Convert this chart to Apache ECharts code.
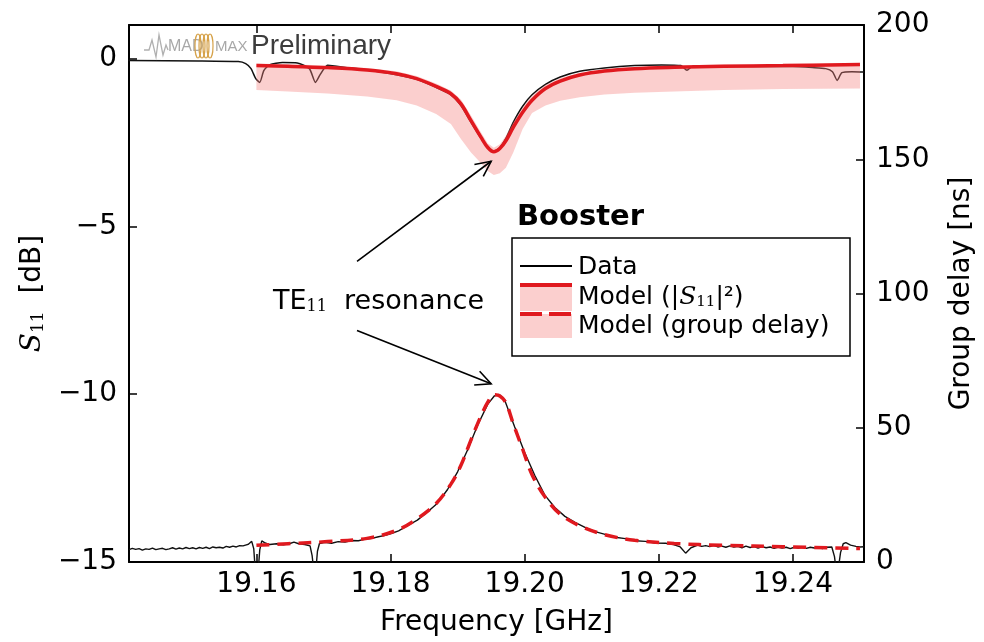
<!DOCTYPE html>
<html><head><meta charset="utf-8">
<script src="https://cdn.jsdelivr.net/npm/echarts@6/dist/echarts.min.js"></script>
<style>html,body{margin:0;padding:0;background:#fff}#c{width:984px;height:642px}</style>
</head><body><div id="c"></div>
<script>
// ---------------- data ----------------
const xTicks = [19.16, 19.18, 19.20, 19.22, 19.24];
const s11Ticks = [-15, -10, -5, 0];
const delayTicks = [0, 50, 100, 150, 200];

// measured S11 (black), dB
const s11DataFreq = [19.1409,19.1514,19.1573,19.1584,19.1592,19.1599,19.1605,19.1611,19.1620,19.1639,19.1661,19.1679,19.1688,19.1695,19.1706,19.1735,19.1765,19.1809,19.1839,19.1868,19.1890,19.1905,19.1920,19.1935,19.1945,19.1954,19.1963,19.1972,19.1983,19.1997,19.2011,19.2031,19.2053,19.2082,19.2119,19.2164,19.2204,19.2233,19.2242,19.2251,19.2301,19.2400,19.2429,19.2449,19.2459,19.2466,19.2473,19.2488,19.2506];
const s11DataDb = [-0.06,-0.07,-0.09,-0.15,-0.30,-0.60,-0.71,-0.36,-0.18,-0.12,-0.13,-0.30,-0.71,-0.48,-0.20,-0.27,-0.34,-0.48,-0.62,-0.86,-1.08,-1.40,-1.90,-2.38,-2.66,-2.77,-2.65,-2.38,-1.90,-1.42,-1.08,-0.77,-0.55,-0.38,-0.28,-0.21,-0.19,-0.21,-0.35,-0.22,-0.23,-0.24,-0.27,-0.30,-0.39,-0.65,-0.42,-0.39,-0.40];

// measured group delay (black): [frequency GHz, delay ns]
const delayDataLeft = [[19.1410,4.6],[19.1415,5.1],[19.1420,4.7],[19.1425,5.0],[19.1430,4.4],[19.1435,4.9],[19.1440,4.7],[19.1445,5.2],[19.1450,4.6],[19.1455,4.9],[19.1460,5.1],[19.1465,4.6],[19.1470,4.9],[19.1475,5.3],[19.1480,4.8],[19.1485,5.2],[19.1490,4.9],[19.1495,5.4],[19.1500,5.0],[19.1505,5.3],[19.1510,4.9],[19.1515,5.4],[19.1520,5.1],[19.1525,5.5],[19.1530,5.0],[19.1535,5.6],[19.1540,5.3],[19.1545,5.5],[19.1550,5.2],[19.1555,5.8],[19.1560,5.5],[19.1565,5.9],[19.1570,5.6],[19.1575,6.1],[19.1580,6.0],[19.1585,6.4]];
const delayDataPeak = [[19.1588,6.6],[19.1593,7.7],[19.1596,5.0],[19.1598,-2],[19.1603,-2],[19.1605,4.5],[19.1608,7.9],[19.1612,7.2],[19.1620,6.5],[19.1630,6.8],[19.1640,6.4],[19.1650,6.9],[19.1656,7.4],[19.1663,6.8],[19.1672,6.5],[19.1680,6.0],[19.1683,2.5],[19.1685,-2],[19.1689,-2],[19.1691,4.0],[19.1694,6.9],[19.1702,7.3],[19.1712,7.0],[19.1722,7.6],[19.1732,7.4],[19.1742,8.0],[19.1752,7.9],[19.1762,8.5],[19.1772,8.8],[19.1782,9.4],[19.1792,9.9],[19.1802,10.7],[19.1812,11.6],[19.1825,13.5],[19.1840,15.6],[19.1855,18.6],[19.1870,21.9],[19.1885,27.0],[19.1900,33.6],[19.1915,41.8],[19.1930,51.0],[19.1945,58.8],[19.1955,61.9],[19.1962,62.4],[19.1970,60.4],[19.1985,50.4],[19.2000,40.8],[19.2015,32.3],[19.2030,24.9],[19.2045,20.3],[19.2060,17.0],[19.2075,14.8],[19.2090,12.9],[19.2105,11.3],[19.2120,10.3],[19.2135,9.2],[19.2150,8.7],[19.2165,7.9],[19.2180,7.7],[19.2195,7.1],[19.2210,7.0],[19.2222,6.5],[19.2232,5.6],[19.2240,3.3],[19.2248,5.3]];
const delayDataRight = [[19.2258,6.3],[19.2264,5.8],[19.2270,6.1],[19.2276,5.7],[19.2282,6.2],[19.2288,5.6],[19.2294,5.9],[19.2300,5.5],[19.2306,6.0],[19.2312,5.6],[19.2318,5.8],[19.2324,5.3],[19.2330,5.9],[19.2336,5.4],[19.2342,5.7],[19.2348,5.2],[19.2354,5.7],[19.2360,5.3],[19.2366,5.6],[19.2372,5.1],[19.2378,5.6],[19.2384,5.2],[19.2390,5.5],[19.2396,5.0],[19.2402,5.5],[19.2408,5.2],[19.2414,5.6],[19.2420,5.1],[19.2426,5.5],[19.2432,5.2],[19.2438,5.4],[19.2444,5.0],[19.2450,5.5],[19.2458,5.6],[19.2462,2.0],[19.2464,-2],[19.2468,-2],[19.2471,3.5],[19.2475,6.8],[19.2479,7.2],[19.2486,6.3],[19.2494,5.8],[19.2500,5.6],[19.2506,5.7]];

// model curves
const modelFreq = [19.1600,19.1647,19.1706,19.1765,19.1809,19.1839,19.1868,19.1890,19.1905,19.1920,19.1935,19.1945,19.1954,19.1963,19.1972,19.1983,19.1997,19.2011,19.2031,19.2053,19.2082,19.2119,19.2164,19.2223,19.2297,19.2385,19.2500];
const modelS11Db = [-0.21,-0.23,-0.27,-0.34,-0.45,-0.60,-0.83,-1.05,-1.35,-1.85,-2.35,-2.65,-2.78,-2.68,-2.45,-2.05,-1.60,-1.24,-0.89,-0.67,-0.49,-0.37,-0.30,-0.26,-0.23,-0.21,-0.18];
const modelBandHighDb = [-0.15,-0.17,-0.21,-0.28,-0.38,-0.52,-0.74,-0.95,-1.22,-1.70,-2.20,-2.52,-2.66,-2.55,-2.30,-1.90,-1.45,-1.10,-0.78,-0.58,-0.42,-0.31,-0.25,-0.21,-0.18,-0.16,-0.13];
const modelBandLowDb = [-0.94,-0.98,-1.04,-1.13,-1.24,-1.40,-1.65,-1.95,-2.40,-2.80,-3.12,-3.35,-3.47,-3.42,-3.25,-2.80,-2.10,-1.62,-1.40,-1.26,-1.15,-1.07,-1.02,-0.98,-0.94,-0.91,-0.89];
const modelDelayNs = [6.2,6.8,7.6,8.8,11.8,16.0,21.8,29.0,36.0,45.5,54.5,59.5,62.3,61.8,59.3,51.5,42.0,32.5,24.0,17.8,13.5,10.2,8.1,6.9,6.2,5.7,5.0];

// annotation anchor points (data space)
const arrowS11 = {from: [19.1750, -6.04], to: [19.1950, -3.06]};
const arrowDelay = {from: [19.1750, 86.2], to: [19.1950, 66.4]};

// ---------------- chart ----------------
const FONT = 'DejaVu Sans';
const RED = '#e0191f';
const BAND = 'rgba(245,130,125,0.38)';
const zip = (a, b) => a.map((v, i) => [v, b[i]]);
const minusFmt = v => (v < 0 ? '\u2212' + Math.abs(v) : String(v));

const chart = echarts.init(document.getElementById('c'));
const xCommon = {
  type: 'value', min: 19.141, max: 19.2506,
  axisLine: {show: true, onZero: false, lineStyle: {color: '#000', width: 2}},
  axisTick: {show: true, inside: true, length: 8, customValues: xTicks, lineStyle: {color: '#000', width: 1.5}},
  splitLine: {show: false}
};
const subRich = {
  t: {fontFamily: FONT, fontSize: 28, color: '#000', lineHeight: 34, verticalAlign: 'bottom'},
  s: {fontFamily: 'DejaVu Serif', fontStyle: 'italic', fontSize: 28, color: '#000', lineHeight: 34, verticalAlign: 'bottom'},
  b: {fontFamily: 'DejaVu Serif', fontSize: 17, color: '#000', lineHeight: 15, verticalAlign: 'bottom'}
};

chart.setOption({
  animation: false,
  backgroundColor: '#fff',
  grid: {left: 129, right: 112, top: 25, bottom: 79},
  xAxis: [
    Object.assign({}, xCommon, {
      position: 'bottom',
      name: 'Frequency [GHz]', nameLocation: 'middle', nameGap: 47,
      nameTextStyle: {fontFamily: FONT, fontSize: 28, color: '#000'},
      axisLabel: {customValues: xTicks, formatter: v => v.toFixed(2), fontFamily: FONT, fontSize: 28, color: '#000', margin: 9}
    }),
    Object.assign({}, xCommon, {position: 'top', axisLabel: {show: false}})
  ],
  yAxis: [
    {
      type: 'value', min: -15, max: 1, position: 'left',
      name: '{s|S}{b|11}{t|  [dB]}', nameLocation: 'middle', nameRotate: 90, nameGap: 71,
      nameTextStyle: {rich: subRich},
      axisLine: {show: true, lineStyle: {color: '#000', width: 2}},
      axisTick: {show: true, inside: true, length: 8, customValues: s11Ticks, lineStyle: {color: '#000', width: 1.5}},
      axisLabel: {customValues: s11Ticks, formatter: minusFmt, fontFamily: FONT, fontSize: 28, color: '#000', margin: 12},
      splitLine: {show: false}
    },
    {
      type: 'value', min: 0, max: 200, position: 'right',
      name: 'Group delay [ns]', nameLocation: 'middle', nameRotate: 90, nameGap: 84,
      nameTextStyle: {fontFamily: FONT, fontSize: 28, color: '#000'},
      axisLine: {show: true, lineStyle: {color: '#000', width: 2}},
      axisTick: {show: true, inside: true, length: 8, customValues: delayTicks, lineStyle: {color: '#000', width: 1.5}},
      axisLabel: {customValues: delayTicks, fontFamily: FONT, fontSize: 28, color: '#000', margin: 12},
      splitLine: {show: false}
    }
  ],
  series: [
    {name: 'Data S11', type: 'line', xAxisIndex: 0, yAxisIndex: 0, data: zip(s11DataFreq, s11DataDb),
     showSymbol: false, smooth: 0.2, lineStyle: {color: '#111', width: 1.5}, z: 1},
    {name: 'Band', type: 'custom', xAxisIndex: 0, yAxisIndex: 0,
     data: modelFreq.map((f, i) => [f, modelBandLowDb[i], modelBandHighDb[i]]),
     encode: {x: 0, y: [1, 2]}, z: 2,
     renderItem: function (params, api) {
       if (params.dataIndex !== 0) return null;
       const pts = [];
       for (let i = 0; i < modelFreq.length; i++) pts.push(api.coord([modelFreq[i], modelBandHighDb[i]]));
       for (let i = modelFreq.length - 1; i >= 0; i--) pts.push(api.coord([modelFreq[i], modelBandLowDb[i]]));
       return {type: 'polygon', shape: {points: pts}, style: {fill: BAND}};
     }},
    {name: 'Model S11', type: 'line', xAxisIndex: 0, yAxisIndex: 0, data: zip(modelFreq, modelS11Db),
     showSymbol: false, smooth: 0.35, lineStyle: {color: RED, width: 3.5}, z: 3},
    {name: 'Data delay', type: 'line', xAxisIndex: 0, yAxisIndex: 1,
     data: delayDataLeft.concat(delayDataPeak, delayDataRight),
     showSymbol: false, lineStyle: {color: '#111', width: 1.4}, z: 4},
    {name: 'Model delay', type: 'line', xAxisIndex: 0, yAxisIndex: 1, data: zip(modelFreq, modelDelayNs),
     showSymbol: false, smooth: 0.35, lineStyle: {color: RED, width: 3.5, type: [13, 8]}, z: 5}
  ]
});

// ---------------- annotations / legend ----------------
function arrow(p0, p1) {
  const dx = p1[0] - p0[0], dy = p1[1] - p0[1];
  const a = Math.atan2(dy, dx), L = 17, s = 0.45;
  const h1 = [p1[0] - L * Math.cos(a - s), p1[1] - L * Math.sin(a - s)];
  const h2 = [p1[0] - L * Math.cos(a + s), p1[1] - L * Math.sin(a + s)];
  return [
    {type: 'line', shape: {x1: p0[0], y1: p0[1], x2: p1[0], y2: p1[1]}, style: {stroke: '#000', lineWidth: 1.6}, z: 20},
    {type: 'polyline', shape: {points: [h1, p1, h2]}, style: {stroke: '#000', lineWidth: 1.6, fill: null}, z: 20}
  ];
}
const c0 = {xAxisIndex: 0, yAxisIndex: 0}, c1 = {xAxisIndex: 0, yAxisIndex: 1};
const g = [];
g.push(...arrow(chart.convertToPixel(c0, arrowS11.from), chart.convertToPixel(c0, arrowS11.to)));
g.push(...arrow(chart.convertToPixel(c1, arrowDelay.from), chart.convertToPixel(c1, arrowDelay.to)));

const textRich = {
  t: {fontFamily: FONT, fontSize: 27, fill: '#000', lineHeight: 34, verticalAlign: 'bottom'},
  b: {fontFamily: 'DejaVu Serif', fontSize: 16, fill: '#000', lineHeight: 16, verticalAlign: 'bottom'}
};
g.push({type: 'text', x: 273, y: 281, z: 20, style: {text: '{t|TE}{b|11}{t|  resonance}', rich: textRich}});

// title & legend
g.push({type: 'text', x: 517, y: 217, z: 20, style: {text: 'Booster', font: 'bold 29px "DejaVu Sans"', fill: '#000', verticalAlign: 'middle'}});
g.push({type: 'rect', z: 19, shape: {x: 512, y: 238, width: 338, height: 118}, style: {fill: '#fff', stroke: '#000', lineWidth: 1.5}});
g.push({type: 'line', z: 20, shape: {x1: 520, y1: 266, x2: 572, y2: 266}, style: {stroke: '#000', lineWidth: 2}});
g.push({type: 'rect', z: 20, shape: {x: 520, y: 285, width: 52, height: 26}, style: {fill: BAND}});
g.push({type: 'line', z: 21, shape: {x1: 520, y1: 285, x2: 572, y2: 285}, style: {stroke: RED, lineWidth: 4}});
g.push({type: 'rect', z: 20, shape: {x: 520, y: 314, width: 52, height: 24}, style: {fill: BAND}});
g.push({type: 'line', z: 21, shape: {x1: 520, y1: 314, x2: 572, y2: 314}, style: {stroke: RED, lineWidth: 4, lineDash: [22, 7]}});
const legRich = {
  t: {fontFamily: FONT, fontSize: 25, fill: '#000', lineHeight: 30, verticalAlign: 'bottom'},
  s: {fontFamily: 'DejaVu Serif', fontStyle: 'italic', fontSize: 25, fill: '#000', lineHeight: 30, verticalAlign: 'bottom'},
  b: {fontFamily: 'DejaVu Serif', fontSize: 15, fill: '#000', lineHeight: 15, verticalAlign: 'bottom'}
};
g.push({type: 'text', z: 20, x: 578, y: 267, style: {text: 'Data', font: '25px "DejaVu Sans"', fill: '#000', verticalAlign: 'middle'}});
g.push({type: 'text', z: 20, x: 578, y: 280, style: {text: '{t|Model (|}{s|S}{b|11}{t||\u00b2)}', rich: legRich}});
g.push({type: 'text', z: 20, x: 578, y: 326, style: {text: 'Model (group delay)', font: '25px "DejaVu Sans"', fill: '#000', verticalAlign: 'middle'}});

// watermark
g.push({type: 'polyline', z: 20, shape: {points: [[144,50],[149,50],[152,40],[156,57],[159,35],[163,55],[166,45],[168,50]]}, style: {stroke: '#b0b0b0', lineWidth: 1.3, fill: null}});
g.push({type: 'text', z: 20, x: 168, y: 47, style: {text: 'MAD', font: '16px "Liberation Sans"', fill: '#a8a8a8', verticalAlign: 'middle'}});
[198, 202, 206, 210].forEach(cx => g.push({type: 'ellipse', z: 20, shape: {cx: cx, cy: 46, rx: 3, ry: 12}, style: {stroke: '#d6a24a', lineWidth: 1.2, fill: null}}));
g.push({type: 'text', z: 20, x: 215, y: 47, style: {text: 'MAX', font: '15px "Liberation Sans"', fill: '#a8a8a8', verticalAlign: 'middle'}});
g.push({type: 'text', z: 20, x: 251, y: 46, style: {text: 'Preliminary', font: '28px "Liberation Sans"', fill: '#3c3c3c', verticalAlign: 'middle'}});

chart.setOption({graphic: g});
</script>
</body></html>
